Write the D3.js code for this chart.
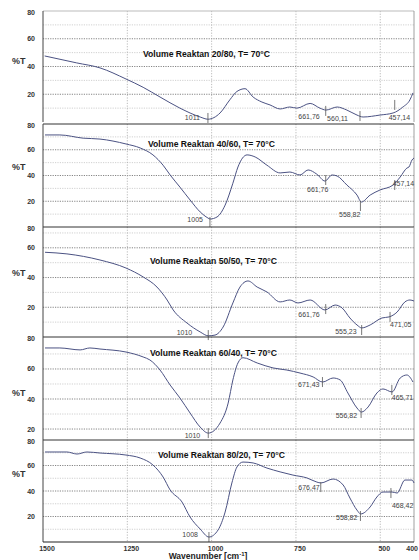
<!DOCTYPE html>
<html><head><meta charset="utf-8">
<script src="https://cdn.jsdelivr.net/npm/d3@7"></script>
<style>body{margin:0;background:#fff}svg{display:block}</style>
</head><body><svg id="c" width="419" height="560"></svg>
<script>
// ---------- DATA ----------
const titles = [
  "Volume Reaktan 20/80, T= 70°C",
  "Volume Reaktan 40/60, T= 70°C",
  "Volume Reaktan 50/50, T= 70°C",
  "Volume Reaktan 60/40, T= 70°C",
  "Volume Reaktan 80/20, T= 70°C"
];
const xTicks = [1500, 1250, 1000, 750, 500, 400];
const yTicks = [20, 40, 60];
const yTopLabel = "80";
const yLabel = "%T";
const xLabel = "Wavenumber [cm";

const s2080 = [[1495,47.6],[1400,42.6],[1331,39],[1254,31],[1203,25],[1153,18],[1094,10],[1034,3.6],[1011,2],[975,6.5],[946,16],[925,22],[901,24],[877,18],[851,14.4],[827,12.3],[797,9.4],[768,10.8],[747,10],[708,13.4],[679,10],[661,8.6],[628,10.8],[599,8.6],[569,5],[551,3.6],[501,5],[462,6.5],[433,10.8],[412,16],[403,21]];
const s4060 = [[1494,71.5],[1450,71.5],[1381,69],[1331,68.3],[1254,64.5],[1212,61.4],[1174,56],[1144,48],[1123,40.4],[1094,31],[1064,21],[1034,11.7],[1011,7],[1005,6.2],[984,7.8],[960,17],[937,34],[922,46.6],[895,56],[871,54.4],[836,48],[797,42],[768,42.7],[738,40.4],[714,44.3],[688,41],[664,35.7],[643,40.4],[628,39.6],[599,32.6],[569,24.8],[556,19.4],[530,24.8],[501,28.7],[462,32.6],[441,38.8],[421,45.8],[415,46.6],[406,52],[400,53.6]];
const s5050 = [[1494,57],[1429,55.9],[1331,51.8],[1254,46.4],[1203,40.4],[1162,33.6],[1132,24.9],[1114,18.2],[1073,9.4],[1034,3.4],[1010,0.8],[990,1.3],[966,6.7],[937,22.9],[916,33.6],[892,37.7],[865,33.6],[836,30.3],[797,23.6],[768,24.9],[744,22.9],[708,24.9],[664,18.2],[634,21.5],[613,19.5],[590,12.8],[569,8.1],[555,6.1],[530,8.1],[495,12.8],[474,13.5],[450,16.8],[427,23.6],[412,24.9],[400,24.2]];
const s6040 = [[1494,74],[1450,74],[1390,72.7],[1361,74],[1331,73.3],[1254,71.3],[1203,68],[1183,66],[1153,59.3],[1123,49.3],[1094,40.7],[1064,30.7],[1034,21.3],[1010,17.3],[975,24],[951,37.3],[937,52.7],[922,64],[907,67.5],[865,64],[818,60.7],[777,59.3],[738,57.3],[699,54.7],[671,51.3],[640,54],[619,52.7],[596,44],[569,34],[556,31.3],[536,34.7],[510,44],[492,46.7],[465,44.7],[441,54],[421,56],[403,51.3]];
const s8020 = [[1494,70.6],[1429,70.6],[1399,69],[1370,70.6],[1331,69.8],[1254,68.2],[1212,65.9],[1174,60.4],[1144,51],[1123,40.8],[1088,31.4],[1064,19.6],[1034,10.2],[1008,3.9],[981,9.4],[960,23.5],[940,46.3],[925,58.8],[907,62.7],[877,62],[836,58],[797,55],[759,52.5],[717,50.2],[688,47],[676,46.3],[640,49.4],[610,44.7],[590,34.5],[569,25],[558,22],[530,27.5],[510,35.3],[492,39.2],[465,39.2],[450,38.4],[427,48.6],[406,48.6],[400,46.3]];
const seriesList = [s2080, s4060, s5050, s6040, s8020];

const peaks2080 = [["1011",1011,2.9],["661,76",661.76,8],["560,11",560.11,4.3],["457,14",457.14,12.3]];
const peaks4060 = [["1005",1005,3.9],["661,76",661.76,36.5],["558,82",558.82,16.3],["457,14",457.14,32.6]];
const peaks5050 = [["1010",1010,1.3],["661,76",661.76,18.8],["555,23",555.23,4.7],["471,05",471.05,13.5]];
const peaks6040 = [["1010",1010,17.3],["671,43",671.43,51.3],["556,82",556.82,30.7],["465,71",465.71,46]];
const peaks8020 = [["1008",1008,3.9],["676,47",676.47,43.1],["558,82",558.82,20.4],["468,42",468.42,38.4]];
const peaksList = [peaks2080, peaks4060, peaks5050, peaks6040, peaks8020];

// ---------- LAYOUT ----------
const panels = [
  {top:11,  bottom:122, dom:[0,80],      titleX:143, titleY:57,  yLabY:64},
  {top:124, bottom:227, dom:[0,80],      titleX:148, titleY:147, yLabY:170},
  {top:227, bottom:337, dom:[0,74],      titleX:150, titleY:264, yLabY:276},
  {top:337, bottom:440, dom:[12.7,81.3], titleX:150, titleY:356, yLabY:396},
  {top:440, bottom:542, dom:[0,80],      titleX:158, titleY:458, yLabY:477}
];
const place = [
  [["end",-8,0],["end",-6,6],["end",-12,2],["start",-6,13]],
  [["end",-7,-2],["middle",-8,9],["end",0,8],["start",-2,-2]],
  [["end",-16,-3],["end",-6,5],["end",-5,1],["start",0,8]],
  [["end",-8,2],["end",-3,2],["end",-4,3],["start",0,7]],
  [["end",-11,-3],["end",-1,0],["end",-3,2],["start",1,12]]
];

const L = 43, R = 414;
const x = d3.scaleLinear().domain([1500, 400]).range([L, R]);
const svg = d3.select("#c");
const font = "'Liberation Sans', Arial, sans-serif";

panels.forEach((p, i) => {
  const y = d3.scaleLinear().domain(p.dom).range([p.bottom, p.top]);
  const g = svg.append("g");
  const gv = d3.range(Math.ceil(p.dom[0]/10)*10, p.dom[1], 10).filter(v => Math.abs(y(v)-p.bottom) > 3 && Math.abs(y(v)-p.top) > 3);
  g.selectAll("line.h").data(gv).join("line")
    .attr("x1", L).attr("x2", R).attr("y1", d => y(d)).attr("y2", d => y(d))
    .attr("stroke", d => d % 20 === 0 ? "#666" : "#c4c4c4")
    .attr("stroke-width", 0.8).attr("stroke-dasharray", "1.2,1.2");
  g.selectAll("line.v").data([1250, 1000, 750, 500]).join("line")
    .attr("x1", d => x(d)).attr("x2", d => x(d)).attr("y1", p.top).attr("y2", p.bottom)
    .attr("stroke", "#aaa").attr("stroke-width", 0.8).attr("stroke-dasharray", "1.2,1.5");
  g.append("line").attr("x1", L).attr("x2", R).attr("y1", p.top).attr("y2", p.top)
    .attr("stroke", i === 0 ? "#bbb" : "#333").attr("stroke-width", 1);
  g.append("line").attr("x1", L).attr("x2", L).attr("y1", p.top).attr("y2", p.bottom)
    .attr("stroke", "#444").attr("stroke-width", 1);
  g.append("line").attr("x1", R).attr("x2", R).attr("y1", p.top).attr("y2", p.bottom)
    .attr("stroke", "#888").attr("stroke-width", 0.8);
  g.selectAll("text.yt").data(yTicks).join("text")
    .attr("x", 35).attr("y", d => y(d) + 2.5).attr("text-anchor", "end")
    .attr("font-family", font).attr("font-size", 7).attr("font-weight", "bold").attr("fill", "#333")
    .text(d => d);
  g.append("text").attr("x", 35).attr("y", p.top + 4).attr("text-anchor", "end")
    .attr("font-family", font).attr("font-size", 7).attr("font-weight", "bold").attr("fill", "#333")
    .text(yTopLabel);
  g.append("text").attr("x", 12).attr("y", p.yLabY).attr("font-family", font)
    .attr("font-size", 9).attr("font-weight", "bold").attr("fill", "#333").text(yLabel);
  g.append("text").attr("x", p.titleX).attr("y", p.titleY).attr("font-family", font)
    .attr("font-size", 9.5).attr("font-weight", "bold").attr("fill", "#111")
    .attr("textLength", 127).attr("lengthAdjust", "spacingAndGlyphs").text(titles[i]);
  g.append("path").datum(seriesList[i])
    .attr("d", d3.line().x(d => x(d[0])).y(d => y(d[1])).curve(d3.curveMonotoneX))
    .attr("fill", "none").attr("stroke", "#4b5283").attr("stroke-width", 1);
  peaksList[i].forEach((pk, j) => {
    const px = x(pk[1]), py = y(pk[2]);
    g.append("line").attr("x1", px).attr("x2", px).attr("y1", py - 5).attr("y2", py + 5)
      .attr("stroke", "#555").attr("stroke-width", 0.8);
    const pl = place[i][j];
    g.append("text").attr("x", px + pl[1]).attr("y", py + pl[2] + 2.5)
      .attr("text-anchor", pl[0]).attr("font-family", font).attr("font-size", 7)
      .attr("fill", "#444").text(pk[0]);
  });
});

const last = panels[panels.length - 1];
svg.append("line").attr("x1", L).attr("x2", R).attr("y1", last.bottom).attr("y2", last.bottom)
  .attr("stroke", "#222").attr("stroke-width", 1.2);
svg.selectAll("text.xt").data(xTicks).join("text")
  .attr("x", d => d === 400 ? 418 : x(d) + 4).attr("y", 551)
  .attr("text-anchor", d => d === 400 ? "end" : "middle")
  .attr("font-family", font).attr("font-size", 7).attr("font-weight", "bold").attr("fill", "#333")
  .text(d => d);
const xl = svg.append("text").attr("x", 208).attr("y", 559).attr("text-anchor", "middle")
  .attr("font-family", font).attr("font-size", 8.5).attr("font-weight", "bold").attr("fill", "#222");
xl.append("tspan").text(xLabel);
xl.append("tspan").attr("dy", -3).attr("font-size", 6).text("-1");
xl.append("tspan").attr("dy", 3).text("]");
</script>
</body></html>
